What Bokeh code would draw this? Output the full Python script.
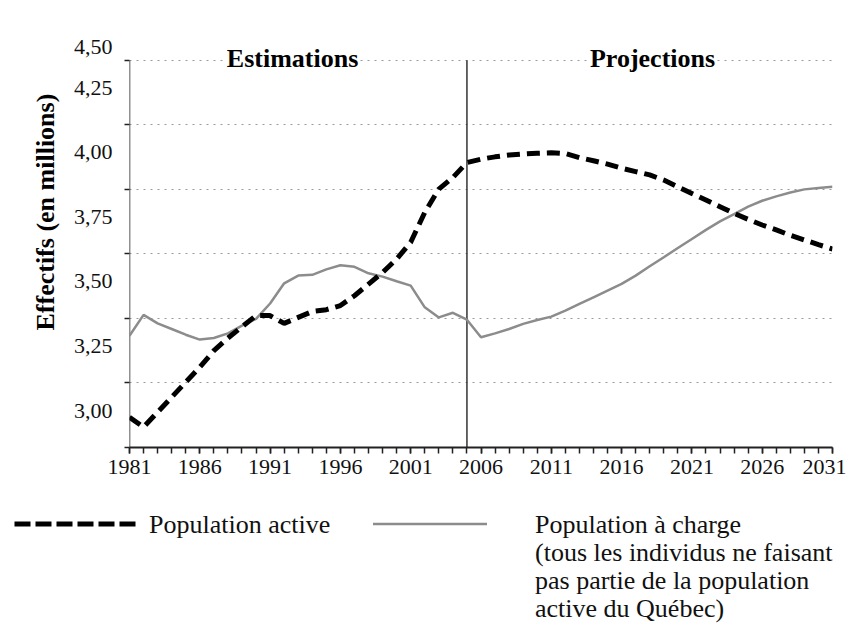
from bokeh.plotting import figure
from bokeh.layouts import column
from bokeh.models import Range1d, FixedTicker, Label, Title, Div, CustomJSTickFormatter
from bokeh.embed import file_html
from bokeh.resources import INLINE

# ---------------- data ----------------
years = [1981, 1982, 1983, 1984, 1985, 1986, 1987, 1988, 1989, 1990,
         1991, 1992, 1993, 1994, 1995, 1996, 1997, 1998, 1999, 2000,
         2001, 2002, 2003, 2004, 2005, 2006, 2007, 2008, 2009, 2010,
         2011, 2012, 2013, 2014, 2015, 2016, 2017, 2018, 2019, 2020,
         2021, 2022, 2023, 2024, 2025, 2026, 2027, 2028, 2029, 2030, 2031]

population_active = [3.117, 3.079, 3.137, 3.195, 3.253, 3.311, 3.375, 3.424, 3.468, 3.511,
                     3.511, 3.481, 3.504, 3.527, 3.534, 3.550, 3.588, 3.633, 3.678, 3.730,
                     3.795, 3.911, 4.001, 4.046, 4.104, 4.117, 4.126, 4.133, 4.137, 4.140,
                     4.142, 4.139, 4.123, 4.111, 4.098, 4.082, 4.069, 4.056, 4.036, 4.010,
                     3.984, 3.959, 3.933, 3.907, 3.884, 3.862, 3.843, 3.822, 3.804, 3.786,
                     3.769]

population_charge = [3.433, 3.514, 3.481, 3.459, 3.437, 3.418, 3.424, 3.442, 3.472, 3.498,
                     3.558, 3.636, 3.666, 3.669, 3.690, 3.706, 3.700, 3.675, 3.662, 3.644,
                     3.627, 3.543, 3.504, 3.522, 3.495, 3.427, 3.442, 3.459, 3.479, 3.494,
                     3.507, 3.530, 3.556, 3.582, 3.608, 3.634, 3.666, 3.702, 3.737, 3.773,
                     3.808, 3.843, 3.876, 3.904, 3.933, 3.956, 3.973, 3.988, 4.000, 4.005,
                     4.010]

x_tick_years = [1981, 1986, 1991, 1996, 2001, 2006, 2011, 2016, 2021, 2026, 2031]
y_ticks = [3.00, 3.25, 3.50, 3.75, 4.00, 4.25, 4.50]
y_tick_labels = ["3,00", "3,25", "3,50", "3,75", "4,00", "4,25", "4,50"]
split_year = 2005
section_titles = ["Estimations", "Projections"]
section_centers = [1992.6, 2018.2]
y_title = "Effectifs (en millions)"
legend_active = "Population active"
legend_charge_lines = ["Population à charge",
                       "(tous les individus ne faisant",
                       "pas partie de la population",
                       "active du Québec)"]

# ---------------- styling ----------------
FONT = "Liberation Serif"
BLACK = "#000000"
GREY = "#8c8c8c"
AXIS = "#222222"
W = 846
X0, X1 = 1981, 2031
Y0, Y1 = 3.0, 4.5
Y_TOP = 4.6                       # a little room above the top gridline
FRAME_H = 413
px_y = (Y_TOP - Y0) / FRAME_H     # data units per pixel (y)

p = figure(width=W, height=498,
           x_range=Range1d(X0, X1), y_range=Range1d(Y0, Y_TOP),
           output_backend="svg", toolbar_location=None,
           min_border_left=129, min_border_right=14,
           min_border_top=34, min_border_bottom=51)
p.outline_line_color = None
p.background_fill_color = "white"
p.border_fill_color = "white"

p.xgrid.visible = False
p.ygrid.ticker = FixedTicker(ticks=y_ticks[1:])
p.ygrid.grid_line_color = "#9a9a9a"
p.ygrid.grid_line_dash = "2 5"
p.ygrid.grid_line_width = 1

xa = p.xaxis[0]
xa.ticker = FixedTicker(ticks=x_tick_years, minor_ticks=years)
xa.major_tick_in = 0
xa.major_tick_out = 6
xa.minor_tick_in = 0
xa.minor_tick_out = 6
xa.axis_line_color = AXIS
xa.axis_line_width = 2
xa.major_tick_line_color = AXIS
xa.minor_tick_line_color = AXIS
xa.major_tick_line_width = 1.5
xa.minor_tick_line_width = 1.5
xa.major_label_text_font = FONT
xa.major_label_text_font_size = "22px"
xa.major_label_text_color = "#111111"
xa.major_label_standoff = 6

# y axis: ticks at the gridlines, labels set off above them (as in the source)
label_pos = [v + 37 * px_y for v in y_ticks[:-1]] + [Y1 + 13 * px_y]
ya = p.yaxis[0]
ya.ticker = FixedTicker(ticks=label_pos, minor_ticks=y_ticks)
ya.formatter = CustomJSTickFormatter(
    args=dict(pos=label_pos, labs=y_tick_labels),
    code="""let b = 0, d = 1e9;
for (let i = 0; i < pos.length; i++) { const e = Math.abs(pos[i] - tick); if (e < d) { d = e; b = i; } }
return labs[b];""")
ya.major_tick_in = 0
ya.major_tick_out = 0
ya.minor_tick_in = 0
ya.minor_tick_out = 5
ya.minor_tick_line_color = AXIS
ya.minor_tick_line_width = 1.5
ya.axis_line_color = None
ya.major_label_standoff = 12
ya.major_label_text_font = FONT
ya.major_label_text_font_size = "22px"
ya.major_label_text_color = "#111111"

# y axis line and the estimation / projection divider
p.segment(x0=[X0, split_year], y0=[Y0, Y0], x1=[X0, split_year], y1=[Y1, Y1],
          line_color=[AXIS, "#333333"], line_width=1.5)

p.line(years, population_charge, line_color=GREY, line_width=2.5)
p.line(years, population_active, line_color=BLACK, line_width=5,
       line_dash="13 7")

for t, c in zip(section_titles, section_centers):
    p.add_layout(Label(x=c, y=Y1 + 2 * px_y, text=t, text_align="center",
                       text_baseline="middle", text_font=FONT,
                       text_font_size="26px", text_font_style="bold",
                       text_color=BLACK, background_fill_color="white"))

p.add_layout(Title(text=y_title, align="left", offset=117, standoff=22,
                   text_font=FONT, text_font_size="26px",
                   text_font_style="bold", text_color=BLACK), "left")

# ---------------- legend (HTML below the chart) ----------------
LH = 127
row_tops = [12, 40, 68, 96]
line_divs = "".join(
    f'<div style="position:absolute;left:530px;top:{t}px;line-height:20px;white-space:nowrap">{s}</div>'
    for t, s in zip(row_tops, legend_charge_lines))
legend_html = f"""
<div style="position:relative;width:{W}px;height:{LH}px;font-family:'{FONT}',serif;font-size:26px;color:#111111;overflow:visible;">
  <svg width="{W}" height="{LH}" style="position:absolute;left:0;top:0;overflow:visible">
    <line x1="9.5" y1="21" x2="131" y2="21" stroke="{BLACK}" stroke-width="5" stroke-dasharray="16 5"/>
    <line x1="368" y1="21" x2="482" y2="21" stroke="{GREY}" stroke-width="2.5"/>
  </svg>
  <div style="position:absolute;left:144px;top:{row_tops[0]}px;line-height:20px;white-space:nowrap">{legend_active}</div>
  {line_divs}
</div>
"""
leg = Div(text=legend_html, width=W, height=LH, styles={"overflow": "visible"})

layout = column(p, leg, spacing=0)
open("out.html", "w").write(file_html(layout, INLINE))
